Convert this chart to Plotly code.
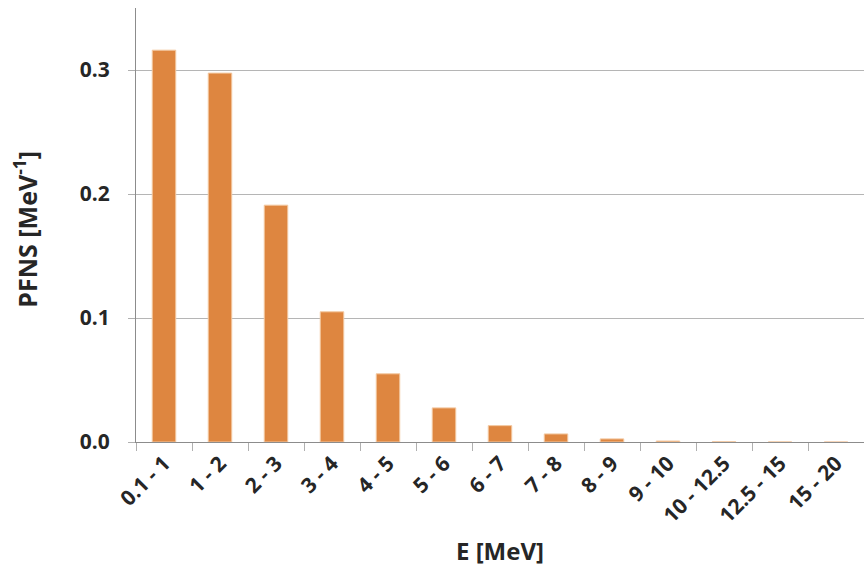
import plotly.graph_objects as go

categories = ["0.1 - 1", "1 - 2", "2 - 3", "3 - 4", "4 - 5", "5 - 6", "6 - 7",
              "7 - 8", "8 - 9", "9 - 10", "10 - 12.5", "12.5 - 15", "15 - 20"]
pfns = [0.316, 0.2975, 0.191, 0.105, 0.055, 0.0275, 0.0132,
        0.0065, 0.0025, 0.0008, 0.0002, 0.00003, 0.000002]
y_ticks = [0.0, 0.1, 0.2, 0.3]
y_tick_labels = ["0.0", "0.1", "0.2", "0.3"]
x_title = "<b>E [MeV]</b>"
y_title = "<b>PFNS [MeV<sup>-1</sup>]</b>"

font_family = "Open Sans, Liberation Sans, sans-serif"
text_color = "#262626"

fig = go.Figure(go.Bar(
    x=categories, y=pfns,
    marker=dict(color="#DE8640", line=dict(color="#F3C9A2", width=1)),
    width=0.42,
))

fig.update_layout(
    width=864, height=569,
    margin=dict(l=136, r=0, t=8, b=127),
    plot_bgcolor="white", paper_bgcolor="white",
    showlegend=False,
    font=dict(family=font_family, color=text_color, size=16),
    annotations=[
        dict(text=x_title, xref="paper", yref="paper", x=0.5, y=-0.249,
             xanchor="center", yanchor="middle", showarrow=False,
             font=dict(size=24, color=text_color, family=font_family)),
        dict(text=y_title, xref="paper", yref="paper", x=-0.152, y=0.49,
             xanchor="center", yanchor="middle", showarrow=False, textangle=-90,
             font=dict(size=25, color=text_color, family=font_family)),
    ],
)

fig.update_xaxes(
    type="category",
    tickangle=-45,
    tickfont=dict(size=21, family=font_family, color=text_color, weight="bold"),
    showline=True, linecolor="#8c8c8c", linewidth=1,
    ticks="outside", tickson="boundaries", ticklen=8, tickcolor="#b0b0b0", tickwidth=1,
    showgrid=False,
    automargin=False,
)

fig.update_yaxes(
    range=[0, 0.35],
    tickvals=y_ticks, ticktext=y_tick_labels,
    tickfont=dict(size=21, family=font_family, color=text_color, weight="bold"),
    ticklabelstandoff=14,
    showline=True, linecolor="#8c8c8c", linewidth=1,
    ticks="outside", ticklen=7, tickcolor="#b0b0b0",
    showgrid=True, gridcolor="#b5b5b5", gridwidth=1,
    zeroline=False,
    automargin=False,
)

# remove the default page margin so the figure fills the 864x569 window exactly
fig.write_html(
    "out.html",
    config={"displayModeBar": False},
    post_script="document.body.style.margin='0';document.body.style.overflow='hidden';",
)
